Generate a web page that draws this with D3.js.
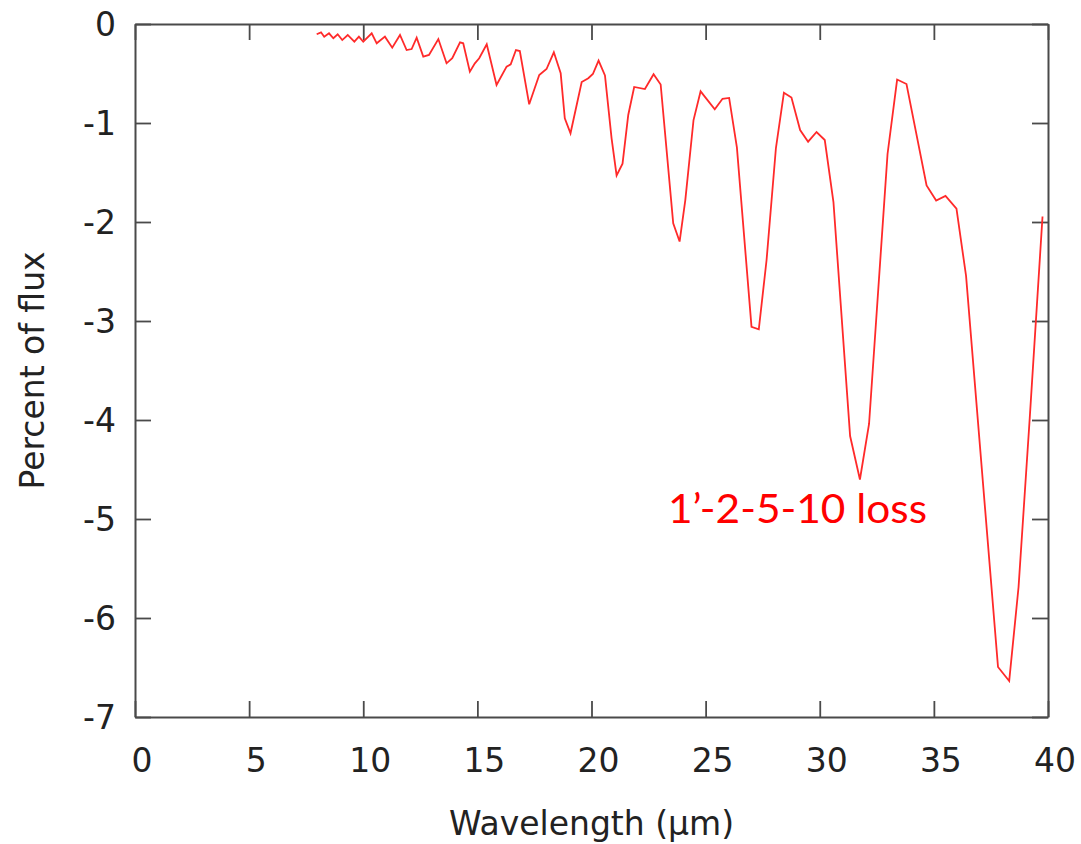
<!DOCTYPE html>
<html>
<head>
<meta charset="utf-8">
<script src="https://cdn.jsdelivr.net/npm/d3@7"></script>
<style>
  html, body { margin: 0; padding: 0; background: #ffffff; }
  svg { display: block; }
  .axis text { font-family: "DejaVu Sans", sans-serif; font-size: 33px; fill: #222; }
  .axis path, .axis line { stroke: #4a4a4a; }
</style>
</head>
<body>
<svg id="chart" width="1081" height="844"></svg>
<script>
// Wavelength samples (µm) and the corresponding flux change (%)
const wavelength = [
  7.96, 8.15, 8.29, 8.50, 8.69, 8.88, 9.08, 9.32, 9.61, 9.81,
  10.00, 10.37, 10.59, 10.95, 11.27, 11.61, 11.90, 12.12, 12.34, 12.63,
  12.88, 13.29, 13.65, 13.90, 14.24, 14.38, 14.67, 14.89, 15.08, 15.41,
  15.84, 16.28, 16.46, 16.69, 16.86, 17.27, 17.71, 18.03, 18.35, 18.65,
  18.83, 19.08, 19.57, 19.86, 20.06, 20.31, 20.59, 20.88, 21.10, 21.36,
  21.61, 21.87, 22.34, 22.72, 23.03, 23.58, 23.86, 24.11, 24.47, 24.78,
  25.40, 25.74, 26.03, 26.37, 27.01, 27.33, 27.67, 28.08, 28.43, 28.76,
  29.14, 29.49, 29.86, 30.22, 30.60, 31.33, 31.76, 32.16, 32.97, 33.39,
  33.80, 34.68, 35.10, 35.51, 35.99, 36.41, 37.81, 38.30, 38.71, 39.20,
  39.76
];
const fluxPercent = [
  -0.104, -0.084, -0.128, -0.094, -0.144, -0.104, -0.162, -0.111, -0.179, -0.128,
  -0.179, -0.094, -0.195, -0.128, -0.239, -0.111, -0.263, -0.253, -0.138, -0.330,
  -0.313, -0.152, -0.397, -0.346, -0.185, -0.195, -0.482, -0.397, -0.346, -0.205,
  -0.616, -0.431, -0.407, -0.263, -0.273, -0.811, -0.515, -0.455, -0.286, -0.498,
  -0.953, -1.104, -0.586, -0.548, -0.505, -0.369, -0.520, -1.155, -1.530, -1.411,
  -0.919, -0.636, -0.657, -0.507, -0.611, -2.013, -2.197, -1.778, -0.970, -0.680,
  -0.862, -0.755, -0.747, -1.247, -3.058, -3.084, -2.384, -1.253, -0.694, -0.742,
  -1.071, -1.189, -1.091, -1.172, -1.798, -4.162, -4.601, -4.040, -1.313, -0.561,
  -0.606, -1.631, -1.783, -1.737, -1.864, -2.545, -6.495, -6.636, -5.687, -3.980,
  -1.944
];
const xTicks = [0, 5, 10, 15, 20, 25, 30, 35, 40];
const yTicks = [0, -1, -2, -3, -4, -5, -6, -7];
const xTitle = "Wavelength (µm)";
const yTitle = "Percent of flux";
const seriesLabel = "1’-2-5-10 loss";

const svg = d3.select("#chart");
const plotLeft = 135, plotRight = 1048, plotTop = 24, plotBottom = 717;

const x = d3.scaleLinear().domain([0, 40]).range([plotLeft, plotRight]);
const y = d3.scaleLinear().domain([-7, 0]).range([plotBottom, plotTop]);

// Plain integer labels with an ASCII hyphen for negatives
const plainLabel = d => String(d);

// Bottom axis with labels, ticks pointing inward
const gx = svg.append("g").attr("class", "axis")
  .attr("transform", `translate(0,${plotBottom})`)
  .call(d3.axisBottom(x).tickValues(xTicks).tickFormat(plainLabel)
    .tickSize(-16).tickSizeOuter(0).tickPadding(31.5));
gx.selectAll("text").attr("dx", 6.5);

// Left axis with labels
const gy = svg.append("g").attr("class", "axis")
  .attr("transform", `translate(${plotLeft},0)`)
  .call(d3.axisLeft(y).tickValues(yTicks).tickFormat(plainLabel)
    .tickSize(-16).tickSizeOuter(0).tickPadding(19));
gy.selectAll("text").attr("dy", "0.36em");

// Mirrored ticks on top and right
svg.append("g").attr("class", "axis")
  .attr("transform", `translate(0,${plotTop})`)
  .call(d3.axisTop(x).tickValues(xTicks).tickSize(-16).tickSizeOuter(0).tickFormat(""));
svg.append("g").attr("class", "axis")
  .attr("transform", `translate(${plotRight},0)`)
  .call(d3.axisRight(y).tickValues(yTicks).tickSize(-16).tickSizeOuter(0).tickFormat(""));

svg.selectAll(".axis path").attr("stroke-width", 2);
svg.selectAll(".axis line").attr("stroke-width", 1.8);

// Axis titles
svg.append("text")
  .attr("x", (plotLeft + plotRight) / 2).attr("y", 835)
  .attr("text-anchor", "middle")
  .style("font-family", "'DejaVu Sans', sans-serif").style("font-size", "33px").style("fill", "#222")
  .text(xTitle);
svg.append("text")
  .attr("transform", `translate(44,${(plotTop + plotBottom) / 2}) rotate(-90)`)
  .attr("text-anchor", "middle")
  .style("font-family", "'DejaVu Sans', sans-serif").style("font-size", "33px").style("fill", "#222")
  .text(yTitle);

// Flux curve
const pts = wavelength.map((w, i) => [w, fluxPercent[i]]);
svg.append("path")
  .datum(pts)
  .attr("fill", "none")
  .attr("stroke", "#ff2a2a")
  .attr("stroke-width", 1.8)
  .attr("stroke-linejoin", "miter")
  .attr("d", d3.line().x(d => x(d[0])).y(d => y(d[1])));

// Series annotation
svg.append("text")
  .attr("x", 668).attr("y", 523)
  .attr("textLength", 259).attr("lengthAdjust", "spacingAndGlyphs")
  .style("font-family", "Lato, 'Open Sans', sans-serif").style("font-size", "41px").style("fill", "#ff0000")
  .text(seriesLabel);
</script>
</body>
</html>
